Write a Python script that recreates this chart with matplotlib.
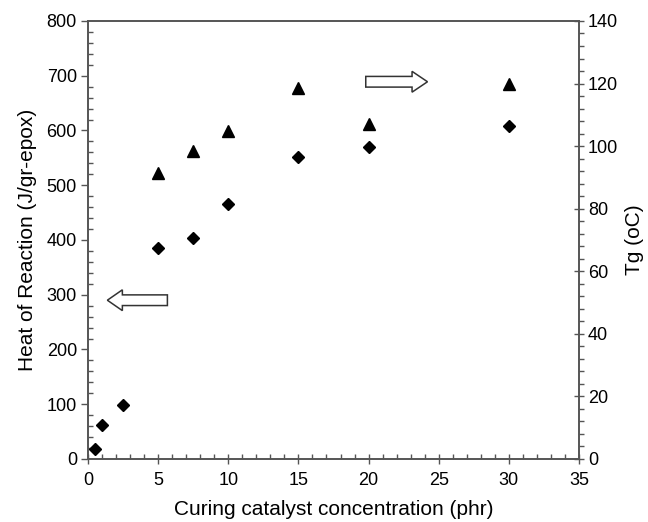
import matplotlib.pyplot as plt
from matplotlib.patches import FancyArrow
from matplotlib.ticker import MultipleLocator

plt.rcParams["font.family"] = ["Liberation Sans", "DejaVu Sans"]

# --- Data ---
heat_conc = [0.5, 1, 2.5, 5, 7.5, 10, 15, 20, 30]
heat_vals = [18, 63, 99, 386, 404, 465, 552, 569, 608]

tg_conc = [5, 7.5, 10, 15, 20, 30]
tg_vals = [91.5, 98.6, 104.9, 118.7, 107.1, 119.7]

spine_col = "#555555"

fig = plt.figure(figsize=(6.48, 5.22), dpi=100)
ax = fig.add_axes([0.1358, 0.1207, 0.7577, 0.8391])
ax2 = ax.twinx()

ax.plot(heat_conc, heat_vals, linestyle="none", marker="D", ms=6.4,
        color="black", zorder=3)
ax2.plot(tg_conc, tg_vals, linestyle="none", marker="^", ms=8.8,
         color="black", zorder=3)

ax.set_xlim(0, 35)
ax.set_ylim(0, 800)
ax2.set_ylim(0, 140)

ax.xaxis.set_major_locator(MultipleLocator(5))
ax.xaxis.set_minor_locator(MultipleLocator(1))
ax.yaxis.set_major_locator(MultipleLocator(100))
ax.yaxis.set_minor_locator(MultipleLocator(20))
ax2.yaxis.set_major_locator(MultipleLocator(20))
ax2.yaxis.set_minor_locator(MultipleLocator(4))

ax.tick_params(axis="x", which="major", direction="inout", length=7,
               width=1, color=spine_col, labelsize=13, pad=6)
ax.tick_params(axis="x", which="minor", direction="in", length=3.5,
               width=1, color=spine_col)
ax.tick_params(axis="y", which="major", direction="out", length=5,
               width=1, color=spine_col, labelsize=13, pad=3)
ax.tick_params(axis="y", which="minor", direction="in", length=3.5,
               width=1, color=spine_col)
ax2.tick_params(axis="y", which="major", direction="inout", length=7,
                width=1, color=spine_col, labelsize=13, pad=3)
ax2.tick_params(axis="y", which="minor", direction="out", length=3.5,
                width=1, color=spine_col)

for a in (ax, ax2):
    for s in a.spines.values():
        s.set_color(spine_col)
        s.set_linewidth(1.2)

ax.set_xlabel("Curing catalyst concentration (phr)", fontsize=15, labelpad=8)
ax.set_ylabel("Heat of Reaction (J/gr-epox)", fontsize=15, labelpad=7)
ax2.set_ylabel("Tg (oC)", fontsize=15, labelpad=5)

# hollow arrows pointing at the matching axis
ax.add_patch(FancyArrow(5.66, 290, -4.28, 0, width=19.5,
                        head_width=38, head_length=1.07,
                        length_includes_head=True, facecolor="white",
                        edgecolor="#333333", linewidth=1.1, zorder=4))
ax.add_patch(FancyArrow(19.8, 689, 4.4, 0, width=19.5,
                        head_width=38, head_length=1.1,
                        length_includes_head=True, facecolor="white",
                        edgecolor="#333333", linewidth=1.1, zorder=4))

fig.savefig("out.png", dpi=100)
